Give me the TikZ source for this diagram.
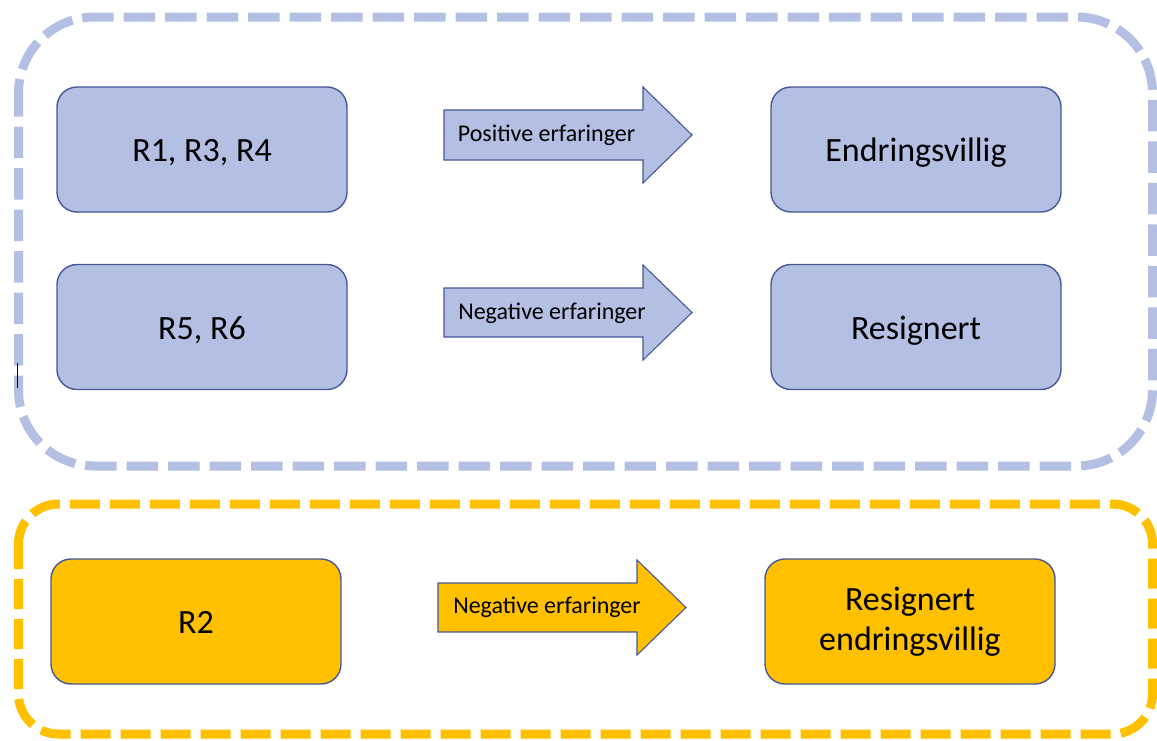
\documentclass[tikz,border=0pt]{standalone}
\usepackage{fontspec}
\setmainfont{Carlito}
\definecolor{boxblue}{RGB}{180,192,227}
\definecolor{edgeblue}{RGB}{70,88,150}
\definecolor{amber}{RGB}{255,192,0}
\tikzset{
  stage/.style={draw=edgeblue, line width=1.4pt, rounded corners=20pt,
    minimum width=290pt, minimum height=125pt, align=center,
    text height=28pt, text depth=4pt,
    font=\fontsize{34}{40}\selectfont, text=black},
  twoline/.style={text height=, text depth=},
  bluestage/.style={stage, fill=boxblue},
  amberstage/.style={stage, fill=amber},
  fatarrow/.style={draw=edgeblue, line width=1.1pt, line join=miter},
  arrowtext/.style={font=\fontsize{24}{28}\selectfont, text=black, inner sep=0pt},
  groupframe/.style={line width=9pt, dash pattern=on 31.5pt off 10pt}
}
\begin{document}
\begin{tikzpicture}[x=1pt,y=-1pt]
\useasboundingbox (0,0) rectangle (1157,740);

% group frames
\draw[groupframe, draw=boxblue, rounded corners=76pt, dash phase=8pt]
  (18.5,17) rectangle (1152.5,466);
\draw[groupframe, draw=amber, rounded corners=40pt, dash pattern=on 30pt off 10pt, dash phase=5pt]
  (18.5,504) rectangle (1152.5,734);
% stray cursor mark on the left frame
\draw[black, line width=1.3pt] (17.5,363) -- (17.5,388);

% stages
\node[bluestage] (r134) at (202,149.5) {R1, R3, R4};
\node[bluestage] (endr) at (916,149.5) {Endringsvillig};
\node[bluestage] (r56) at (202,327) {R5, R6};
\node[bluestage] (resig) at (916,327) {Resignert};
\node[amberstage] (r2) at (196,621.5) {R2};
\node[amberstage, twoline] (resendr) at (910,621.5) {Resignert\\[0pt]endringsvillig};

% block arrows
\draw[fatarrow, fill=boxblue]
  (444,110) -- (643,110) -- (643,87) -- (692,135) -- (643,183) -- (643,160) -- (444,160) -- cycle;
\node[arrowtext] (pos) at (546.5,135.5) {Positive erfaringer};

\draw[fatarrow, fill=boxblue]
  (444,288) -- (643,288) -- (643,265) -- (692,312.5) -- (643,360) -- (643,337) -- (444,337) -- cycle;
\node[arrowtext] (neg1) at (552,313.5) {Negative erfaringer};

\draw[fatarrow, fill=amber]
  (438,583) -- (637,583) -- (637,560) -- (686,607.5) -- (637,655) -- (637,632) -- (438,632) -- cycle;
\node[arrowtext] (neg2) at (547,607.5) {Negative erfaringer};
\end{tikzpicture}
\end{document}
